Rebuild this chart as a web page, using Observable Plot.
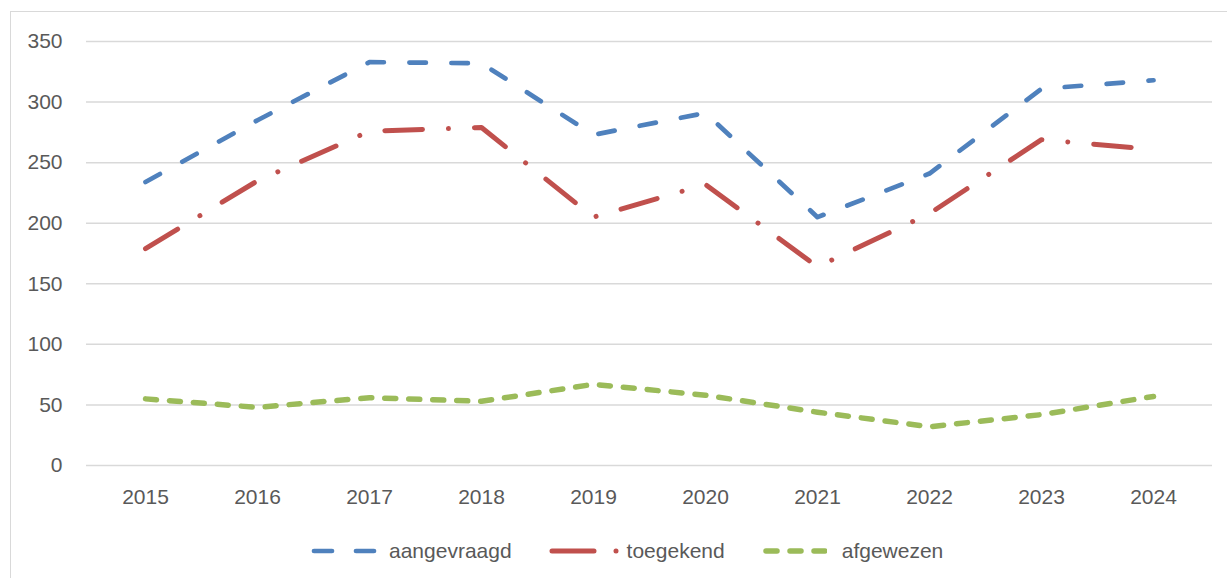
<!DOCTYPE html>
<html>
<head>
<meta charset="utf-8">
<script src="https://cdn.jsdelivr.net/npm/d3@7"></script>
<script src="https://cdn.jsdelivr.net/npm/@observablehq/plot@0.6"></script>
<style>
  html, body { margin: 0; padding: 0; background: #fff; overflow: hidden; }
  body { width: 1227px; height: 578px; position: relative; font-family: "Liberation Sans", Arial, sans-serif; }
  #frame { position: absolute; left: 10px; top: 11px; width: 1300px; height: 700px; border: 1.5px solid #d9d9d9; box-sizing: border-box; }
  #chart { position: absolute; left: 0; top: 0; }
  #legend { position: absolute; left: 311px; top: 539px; display: flex; align-items: center; font-size: 21px; color: #595959; }
  #legend .item { display: flex; align-items: center; }
  #legend svg { display: block; }
</style>
</head>
<body>
<div id="frame"></div>
<div id="chart"></div>
<div id="legend"></div>
<script>
const years = ["2015","2016","2017","2018","2019","2020","2021","2022","2023","2024"];
const aangevraagd = [234, 285, 333, 332, 273, 291, 205, 241, 311, 318];
const toegekend   = [179, 235, 276, 279, 205, 232, 164, 208, 269, 261];
const afgewezen   = [55, 48, 56, 53, 67, 58, 44, 32, 42, 57];
const seriesNames = ["aangevraagd", "toegekend", "afgewezen"];
const yTicks = [0, 50, 100, 150, 200, 250, 300, 350];

const colors = { aangevraagd: "#4F81BD", toegekend: "#C0504D", afgewezen: "#9BBB59" };
const dashes = { aangevraagd: "16.5 25.5", toegekend: "37.6 26 0.01 26", afgewezen: "11 13" };
const widths = { aangevraagd: 4.7, toegekend: 5, afgewezen: 5.5 };

const valuesBySeries = { aangevraagd, toegekend, afgewezen };
const lineMarks = seriesNames.map(name => Plot.line(
  years.map((y, i) => ({ year: y, value: valuesBySeries[name][i] })),
  { x: "year", y: "value", stroke: colors[name], strokeWidth: widths[name],
    strokeDasharray: dashes[name], strokeLinecap: "round", strokeLinejoin: "round" }
));

const chart = Plot.plot({
  width: 1227,
  height: 515,
  marginLeft: 86,
  marginRight: 15,
  marginTop: 41,
  marginBottom: 50,
  style: { fontFamily: "'Liberation Sans', Arial, sans-serif", fontSize: "21px", color: "#595959", background: "transparent", overflow: "visible" },
  x: { type: "point", domain: years, padding: 0.5, label: null },
  y: { domain: [0, 350], label: null },
  marks: [
    Plot.ruleY(yTicks, { stroke: "#d9d9d9", strokeWidth: 1.5 }),
    Plot.axisY({ ticks: yTicks, tickSize: 0, tickPadding: 24, label: null, fill: "#595959" }),
    Plot.axisX({ tickSize: 0, tickPadding: 24, label: null, fill: "#595959" }),
    ...lineMarks
  ]
});
document.getElementById("chart").appendChild(chart);

// legend
const legendLayout = {
  aangevraagd: { w: 66, gapText: 12, gapAfter: 37 },
  toegekend: { w: 71, gapText: 7, gapAfter: 38 },
  afgewezen: { w: 64, gapText: 15, gapAfter: 0 }
};
const legendDash = { aangevraagd: "18 24", toegekend: "42 22 0.01 10", afgewezen: "11 13" };
const legend = d3.select("#legend");
seriesNames.forEach(name => {
  const L = legendLayout[name];
  const item = legend.append("div").attr("class", "item").style("margin-right", L.gapAfter + "px");
  const svg = item.append("svg").attr("width", L.w).attr("height", 16);
  svg.append("line")
    .attr("x1", 3).attr("x2", L.w - 2).attr("y1", 8).attr("y2", 8)
    .attr("stroke", colors[name]).attr("stroke-width", widths[name])
    .attr("stroke-linecap", "round").attr("stroke-dasharray", legendDash[name]);
  item.append("span").style("margin-left", L.gapText + "px").text(name);
});
</script>
</body>
</html>
